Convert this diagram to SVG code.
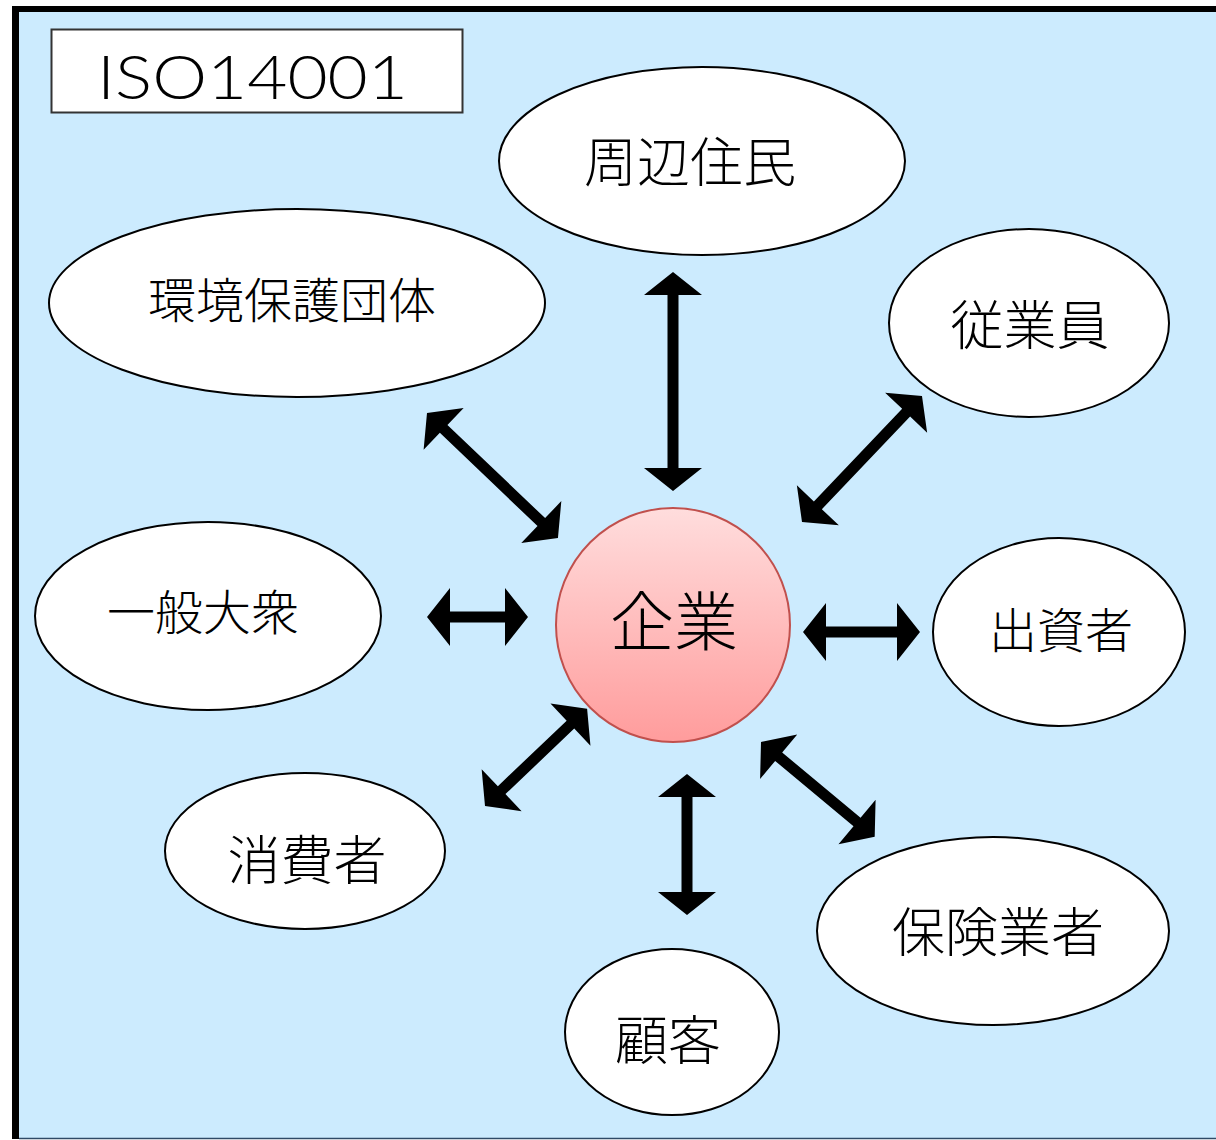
<svg xmlns="http://www.w3.org/2000/svg" width="1216" height="1140" viewBox="0 0 1216 1140">
  <defs>
    <linearGradient id="gc" x1="0" y1="0" x2="0" y2="1">
      <stop offset="0" stop-color="#FFDDDD"/>
      <stop offset="1" stop-color="#FF9C9C"/>
    </linearGradient>
    <style>
      .node { fill: #FFFFFF; stroke: #000000; stroke-width: 2; }
      .lbl { font-family: "Noto Sans CJK JP", "Noto Sans CJK SC", sans-serif; font-weight: 300; fill: #000000; text-anchor: middle; dominant-baseline: central; }
      .arr { fill: #000000; stroke: none; }
    </style>
  </defs>

  <!-- background panel -->
  <rect x="16" y="9" width="1210" height="1129" fill="#CCEBFE"/>
  <line x1="15.5" y1="6" x2="15.5" y2="1139" stroke="#000000" stroke-width="7"/>
  <line x1="12" y1="9" x2="1216" y2="9" stroke="#000000" stroke-width="6"/>
  <line x1="19" y1="1138.5" x2="1216" y2="1138.5" stroke="#2F4A66" stroke-width="1.5"/>

  <g id="title">
    <rect x="51.5" y="29.5" width="411" height="83" fill="#FFFFFF" stroke="#333333" stroke-width="2"/>
    <text x="97" y="99" font-family="Lato, Liberation Sans, sans-serif" font-weight="300" font-size="62" textLength="311" lengthAdjust="spacingAndGlyphs" fill="#000000">ISO14001</text>
  </g>

  <g id="connectors">
    <polygon class="arr" transform="translate(673,272) rotate(90)" points="0,0 23,-29 23,-5.5 196,-5.5 196,-29 219,0 196,29 196,5.5 23,5.5 23,29"/>
    <polygon class="arr" transform="translate(427,413) rotate(43.66)" points="0,0 23,-29 23,-5.5 158,-5.5 158,-29 181,0 158,29 158,5.5 23,5.5 23,29"/>
    <polygon class="arr" transform="translate(802,522) rotate(-46.4)" points="0,0 23,-29 23,-5.5 151,-5.5 151,-29 174,0 151,29 151,5.5 23,5.5 23,29"/>
    <polygon class="arr" transform="translate(427,617)" points="0,0 23,-29 23,-5.5 78,-5.5 78,-29 101,0 78,29 78,5.5 23,5.5 23,29"/>
    <polygon class="arr" transform="translate(803,632)" points="0,0 23,-29 23,-5.5 94,-5.5 94,-29 117,0 94,29 94,5.5 23,5.5 23,29"/>
    <polygon class="arr" transform="translate(485,806) rotate(-43.6)" points="0,0 23,-29 23,-5.5 118,-5.5 118,-29 141,0 118,29 118,5.5 23,5.5 23,29"/>
    <polygon class="arr" transform="translate(687,774) rotate(90)" points="0,0 23,-29 23,-5.5 118,-5.5 118,-29 141,0 118,29 118,5.5 23,5.5 23,29"/>
    <polygon class="arr" transform="translate(761,742) rotate(39.8)" points="0,0 23,-29 23,-5.5 125,-5.5 125,-29 148,0 125,29 125,5.5 23,5.5 23,29"/>
  </g>

  <g id="n-shuhen">
    <ellipse class="node" cx="702" cy="161" rx="203" ry="94"/>
    <text class="lbl" x="690" y="159" font-size="53">周辺住民</text>
  </g>
  <g id="n-kankyo">
    <ellipse class="node" cx="297" cy="303" rx="248" ry="94"/>
    <text class="lbl" x="292" y="297" font-size="48">環境保護団体</text>
  </g>
  <g id="n-jugyoin">
    <ellipse class="node" cx="1029" cy="323" rx="140" ry="94"/>
    <text class="lbl" x="1030" y="322" font-size="53">従業員</text>
  </g>
  <g id="n-ippan">
    <ellipse class="node" cx="208" cy="616" rx="173" ry="94"/>
    <text class="lbl" x="203" y="609" font-size="48">一般大衆</text>
  </g>
  <g id="n-shusshi">
    <ellipse class="node" cx="1059" cy="632" rx="126" ry="94"/>
    <text class="lbl" x="1061" y="627" font-size="48">出資者</text>
  </g>
  <g id="n-shohi">
    <ellipse class="node" cx="305" cy="851" rx="140" ry="78"/>
    <text class="lbl" x="307" y="857" font-size="53">消費者</text>
  </g>
  <g id="n-hoken">
    <ellipse class="node" cx="993" cy="931" rx="176" ry="94"/>
    <text class="lbl" x="998" y="929" font-size="53">保険業者</text>
  </g>
  <g id="n-kokyaku">
    <ellipse class="node" cx="672" cy="1032" rx="107" ry="83"/>
    <text class="lbl" x="668" y="1037" font-size="53">顧客</text>
  </g>
  <g id="n-kigyo">
    <circle cx="673" cy="625" r="117" fill="url(#gc)" stroke="#C0504D" stroke-width="2"/>
    <text class="lbl" x="674" y="617" font-size="64">企業</text>
  </g>
</svg>
